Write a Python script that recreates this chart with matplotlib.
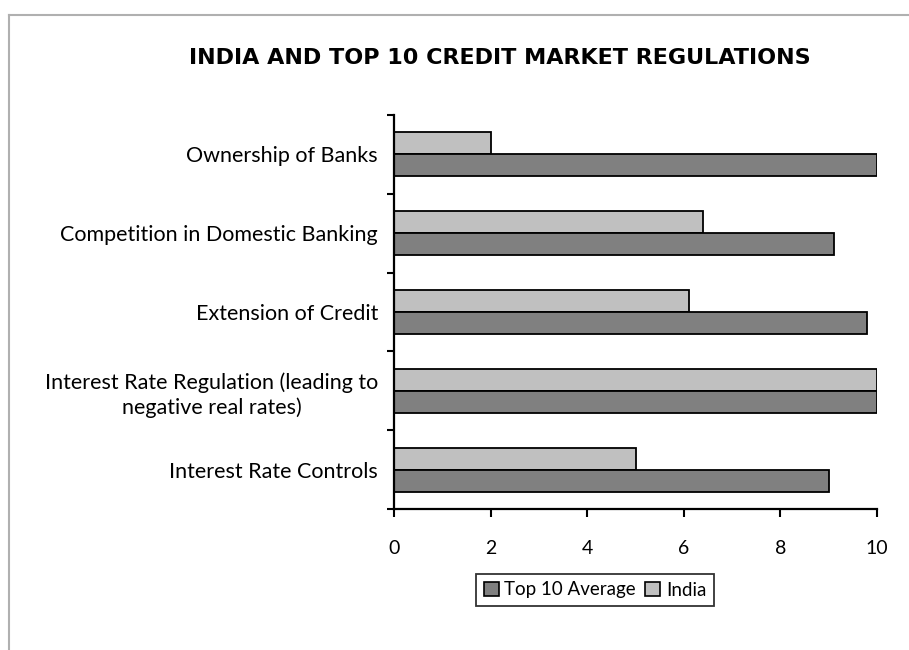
import matplotlib
matplotlib.use("Agg")
import matplotlib.pyplot as plt
from matplotlib.lines import Line2D
from matplotlib.patches import Patch
import numpy as np

categories = ["Ownership of Banks",
              "Competition in Domestic Banking",
              "Extension of Credit",
              "Interest Rate Regulation (leading to\nnegative real rates)",
              "Interest Rate Controls"]
india = [2.0, 6.4, 6.1, 10.0, 5.0]
top10 = [10.0, 9.1, 9.8, 10.0, 9.0]
xticks = [0, 2, 4, 6, 8, 10]
title = "INDIA AND TOP 10 CREDIT MARKET REGULATIONS"

plt.rcParams['font.family'] = ['Lato', 'DejaVu Sans']

W, H = 909, 650
fig = plt.figure(figsize=(W/100, H/100), dpi=100)
ax = fig.add_axes([394/W, 1-509/H, (877-394)/W, (509-115)/H])

y = np.arange(len(categories))
h = 0.28
dark = "#808080"
light = "#c0c0c0"
ax.barh(y - h/2, india, height=h, color=light, edgecolor="black", linewidth=1.3, zorder=2)
ax.barh(y + h/2, top10, height=h, color=dark, edgecolor="black", linewidth=1.3, zorder=2)

ax.set_xlim(0, 10)
ax.set_ylim(len(categories) - 0.5, -0.5)
ax.set_xticks(xticks)
ax.set_xticklabels([str(t) for t in xticks], fontsize=14)
ax.set_yticks(np.arange(len(categories) + 1) - 0.5)
ax.set_yticklabels([])
ax.set_yticks(y, minor=True)
ax.set_yticklabels(categories, minor=True, fontsize=15.5, ha="right",
                   multialignment="center", linespacing=1.25)
ax.tick_params(axis="y", which="minor", length=0, pad=11.5)
ax.tick_params(axis="y", which="major", length=5, width=1.5, direction="out")
ax.tick_params(axis="x", length=6, width=1.5, direction="out", pad=16)
for s in ["top", "right"]:
    ax.spines[s].set_visible(False)
for s in ["left", "bottom"]:
    ax.spines[s].set_linewidth(1.6)
    ax.spines[s].set_color("black")

fig.text(500/W, 1-58/H, title, ha="center", va="center", fontsize=16,
         fontweight="bold", family="DejaVu Sans")

handles = [Patch(facecolor=dark, edgecolor="black", linewidth=1.2, label="Top 10 Average"),
           Patch(facecolor=light, edgecolor="black", linewidth=1.2, label="India")]
leg = fig.legend(handles=handles, loc="center", bbox_to_anchor=(595/W, 1-590/H), ncol=2,
                 fontsize=13.5, frameon=True, fancybox=False, edgecolor="black",
                 handlelength=0.8, handleheight=0.8, handletextpad=0.3, columnspacing=0.5,
                 borderpad=0.4, borderaxespad=0)
leg.get_frame().set_linewidth(1.3)

fig.add_artist(Line2D([9/W, 9/W], [0, 1-15/H], transform=fig.transFigure, color="#b0b0b0", linewidth=1.5))
fig.add_artist(Line2D([9/W, 1], [1-15/H, 1-15/H], transform=fig.transFigure, color="#b0b0b0", linewidth=1.5))

fig.savefig("out.png", dpi=100)
